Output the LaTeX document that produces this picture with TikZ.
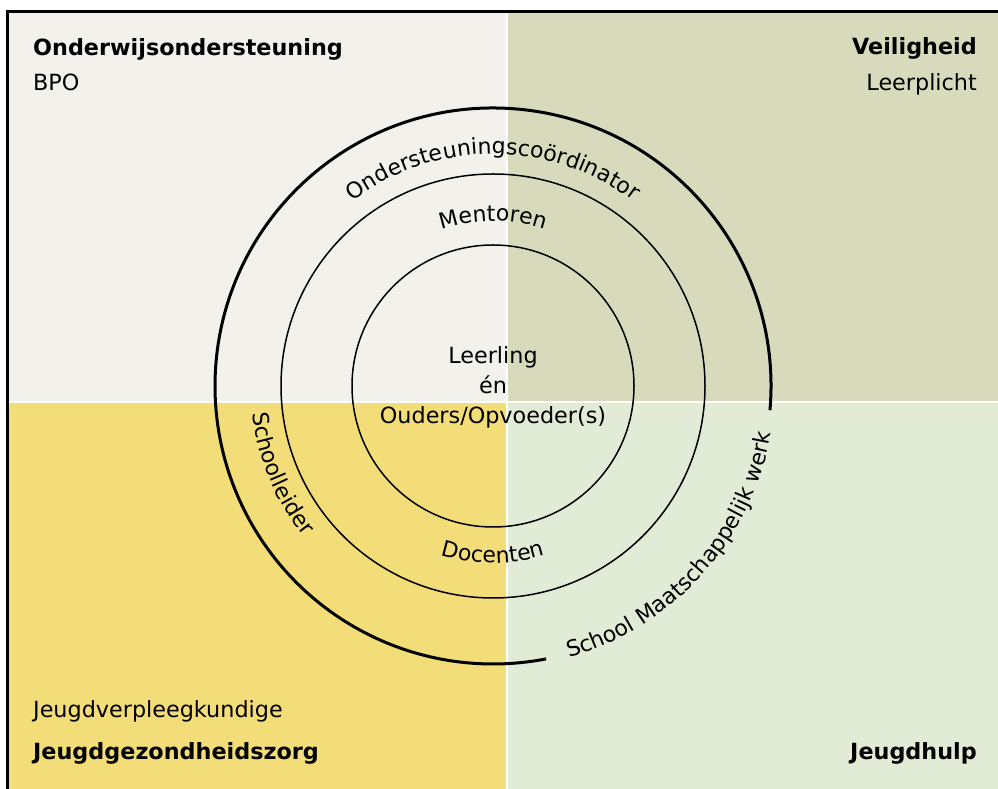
\documentclass[tikz,border=0pt]{standalone}
\usepackage{fontspec}
\setmainfont{DejaVu Sans}
\usetikzlibrary{decorations.text}
\definecolor{qTL}{RGB}{242,241,236}
\definecolor{qTR}{RGB}{216,219,187}
\definecolor{qBL}{RGB}{243,221,120}
\definecolor{qBR}{RGB}{226,235,214}
\newcommand{\labfont}{\fontsize{22.3}{26}\selectfont}
\newcommand{\arcfont}{\fontsize{22}{26}\selectfont}
\begin{document}
\begin{tikzpicture}[x=1pt,y=1pt,
  ring/.style={draw=black,line width=1.5pt},
  outerring/.style={draw=black,line width=3pt},
  lab/.style={inner sep=0pt,font=\labfont},
  blab/.style={inner sep=0pt,font=\labfont\bfseries},
  curved/.style={decorate,decoration={text along path,text align=center,text={|\arcfont|#1}}}]
\useasboundingbox (0,0) rectangle (998,789);
\fill[white] (0,0) rectangle (998,789);
\coordinate (C) at (493,403);
% quadrants
\fill[qTL] (9,388) rectangle (506,776);
\fill[qTR] (508,388) rectangle (998,776);
\fill[qBL] (9,0) rectangle (506,386);
\fill[qBR] (508,0) rectangle (998,386);
\draw[line width=3pt] (7.5,0) -- (7.5,777.5) -- (998,777.5);
% rings
\draw[ring] (C) circle[radius=141];
\draw[ring] (C) circle[radius=212];
\draw[outerring] (C) ++(-5:278) arc[start angle=-5,end angle=281,radius=278];
% corner labels
\node[blab,anchor=base west] (ow) at (33,733) {Onderwijsondersteuning};
\node[lab,anchor=base west] (bpo) at (33,698) {BPO};
\node[blab,anchor=base east] (vh) at (977,734) {Veiligheid};
\node[lab,anchor=base east] (lp) at (977,698) {Leerplicht};
\node[lab,anchor=base west] (jv) at (33,71) {Jeugdverpleegkundige};
\node[blab,anchor=base west] (jg) at (33,29) {Jeugdgezondheidszorg};
\node[blab,anchor=base east] (jh) at (977,29) {Jeugdhulp};
% centre
\node[lab,anchor=base] (ll) at (493,425) {Leerling};
\node[lab,anchor=base] (en) at (493,395) {én};
\node[lab,anchor=base] (ou) at (493,365) {Ouders/Opvoeder(s)};
% curved labels
\path[curved={Ondersteuningscoördinator}] (C) ++(130:232) arc[start angle=130,end angle=50,radius=232];
\path[curved={Mentoren}] (C) ++(115:165) arc[start angle=115,end angle=65,radius=165];
\path[curved={Docenten}] (C) ++(245:177) arc[start angle=245,end angle=295,radius=177];
\path[curved={Schoolleider}] (C) ++(180:242) arc[start angle=180,end angle=225,radius=242];
\path[curved={School Maatschappelijk werk}] (C) ++(-80:282) arc[start angle=-80,end angle=-4,radius=282];
\end{tikzpicture}
\end{document}
